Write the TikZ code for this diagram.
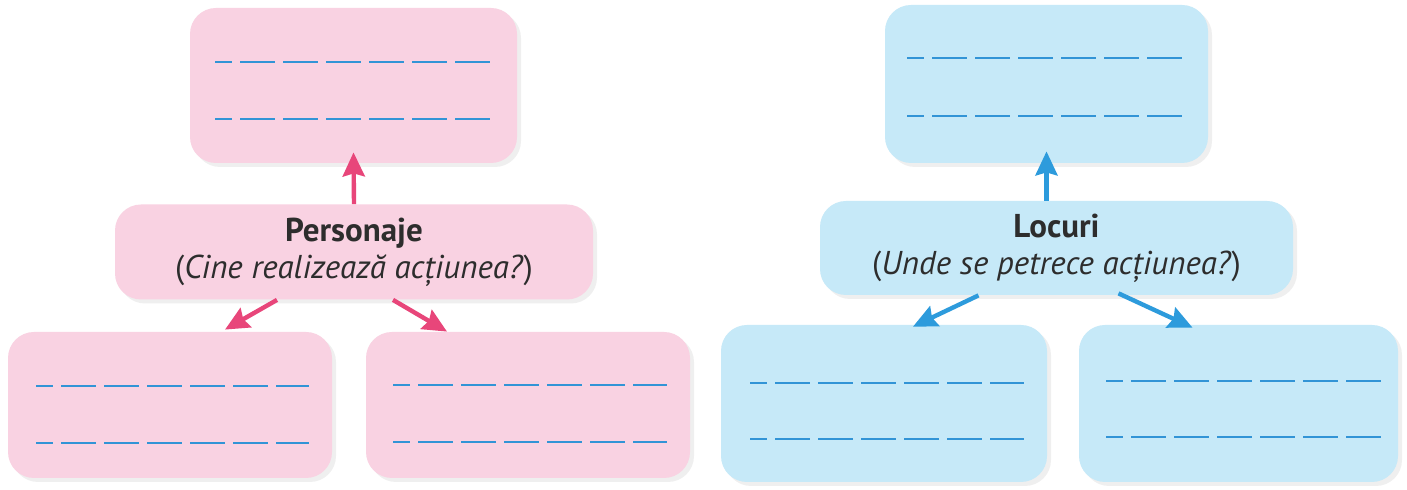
\documentclass[tikz,border=0pt]{standalone}
\usepackage{fontspec}
\setmainfont{PT Sans}
\usetikzlibrary{arrows.meta,shadows}
\definecolor{pinkfill}{RGB}{249,210,226}
\definecolor{bluefill}{RGB}{198,233,248}
\definecolor{pinkarrow}{RGB}{232,70,122}
\definecolor{bluearrow}{RGB}{45,155,220}
\definecolor{dashblue}{RGB}{50,148,214}
\definecolor{textgray}{RGB}{45,45,45}
\begin{document}
\begin{tikzpicture}[x=0.5pt,y=-0.5pt]
	\tikzstyle{box}=[rounded corners=13pt,inner sep=0pt,
		drop shadow={opacity=0.12,shadow xshift=2pt,shadow yshift=-2pt}]
	\tikzstyle{pinkbox}=[box,fill=pinkfill]
	\tikzstyle{bluebox}=[box,fill=bluefill]
	\tikzstyle{question}=[align=center,text=textgray,font=\fontsize{16.5}{18.5}\selectfont]
	\tikzstyle{answer}=[draw=dashblue,line width=1pt,dash pattern=on 17.5pt off 4pt,dash phase=9pt]
	\tikzstyle{pinkedge}=[draw=pinkarrow,line width=2.2pt,-{Stealth[length=12pt,width=11pt,inset=1.5pt]}]
	\tikzstyle{blueedge}=[draw=bluearrow,line width=2.2pt,-{Stealth[length=12pt,width=11pt,inset=1.5pt]}]
	\fill[white] (0,0) rectangle (1407,490);
	\useasboundingbox (0,0) rectangle (1407,490);
	\begin{scope}
		% Personaje
		\node [pinkbox,minimum width=163.5pt,minimum height=77.5pt] (pTop) at (353.5,85.5) {};
		\node [pinkbox,minimum width=239pt,minimum height=47.5pt,question] (pMain) at (354,252)
			{\textbf{Personaje}\\(\textit{Cine realizează acțiunea?})};
		\node [pinkbox,minimum width=162pt,minimum height=73pt] (pLeft) at (170,405) {};
		\node [pinkbox,minimum width=162pt,minimum height=73pt] (pRight) at (528,405) {};

		\path[pinkedge] (pMain.north) -- ([yshift=5.5pt]pTop.south);
		\path[pinkedge] ([xshift=-38.5pt]pMain.south) -- ([xshift=27.5pt,yshift=1pt]pLeft.north);
		\path[pinkedge] ([xshift=19.5pt]pMain.south) -- ([xshift=-40.5pt]pRight.north);
	\end{scope}
	\begin{scope}
		% Locuri
		\node [bluebox,minimum width=161.5pt,minimum height=79pt] (bTop) at (1046.5,84) {};
		\node [bluebox,minimum width=236.5pt,minimum height=47pt,question] (bMain) at (1056.5,248)
			{\textbf{Locuri}\\(\textit{Unde se petrece acțiunea?})};
		\node [bluebox,minimum width=163pt,minimum height=78.5pt] (bLeft) at (884,403.5) {};
		\node [bluebox,minimum width=159.5pt,minimum height=78.5pt] (bRight) at (1238.5,403.5) {};

		\path[blueedge] ([xshift=-5pt]bMain.north) -- ([yshift=6pt]bTop.south);
		\path[blueedge] ([xshift=-39pt]bMain.south) -- ([xshift=14.5pt,yshift=-1pt]bLeft.north);
		\path[blueedge] ([xshift=31pt,yshift=1pt]bMain.south) -- ([xshift=-23pt,yshift=-1.5pt]bRight.north);
	\end{scope}
	% answer lines
	\foreach \xa/\xb/\ya/\yb in {215/490/62/119, 36/309/386/443, 393/667/385/442,
		907/1183/58/116, 750/1024/383/439, 1106/1381/381/437}
		\draw[answer] (\xa,\ya) -- (\xb,\ya) (\xa,\yb) -- (\xb,\yb);
\end{tikzpicture}
\end{document}
